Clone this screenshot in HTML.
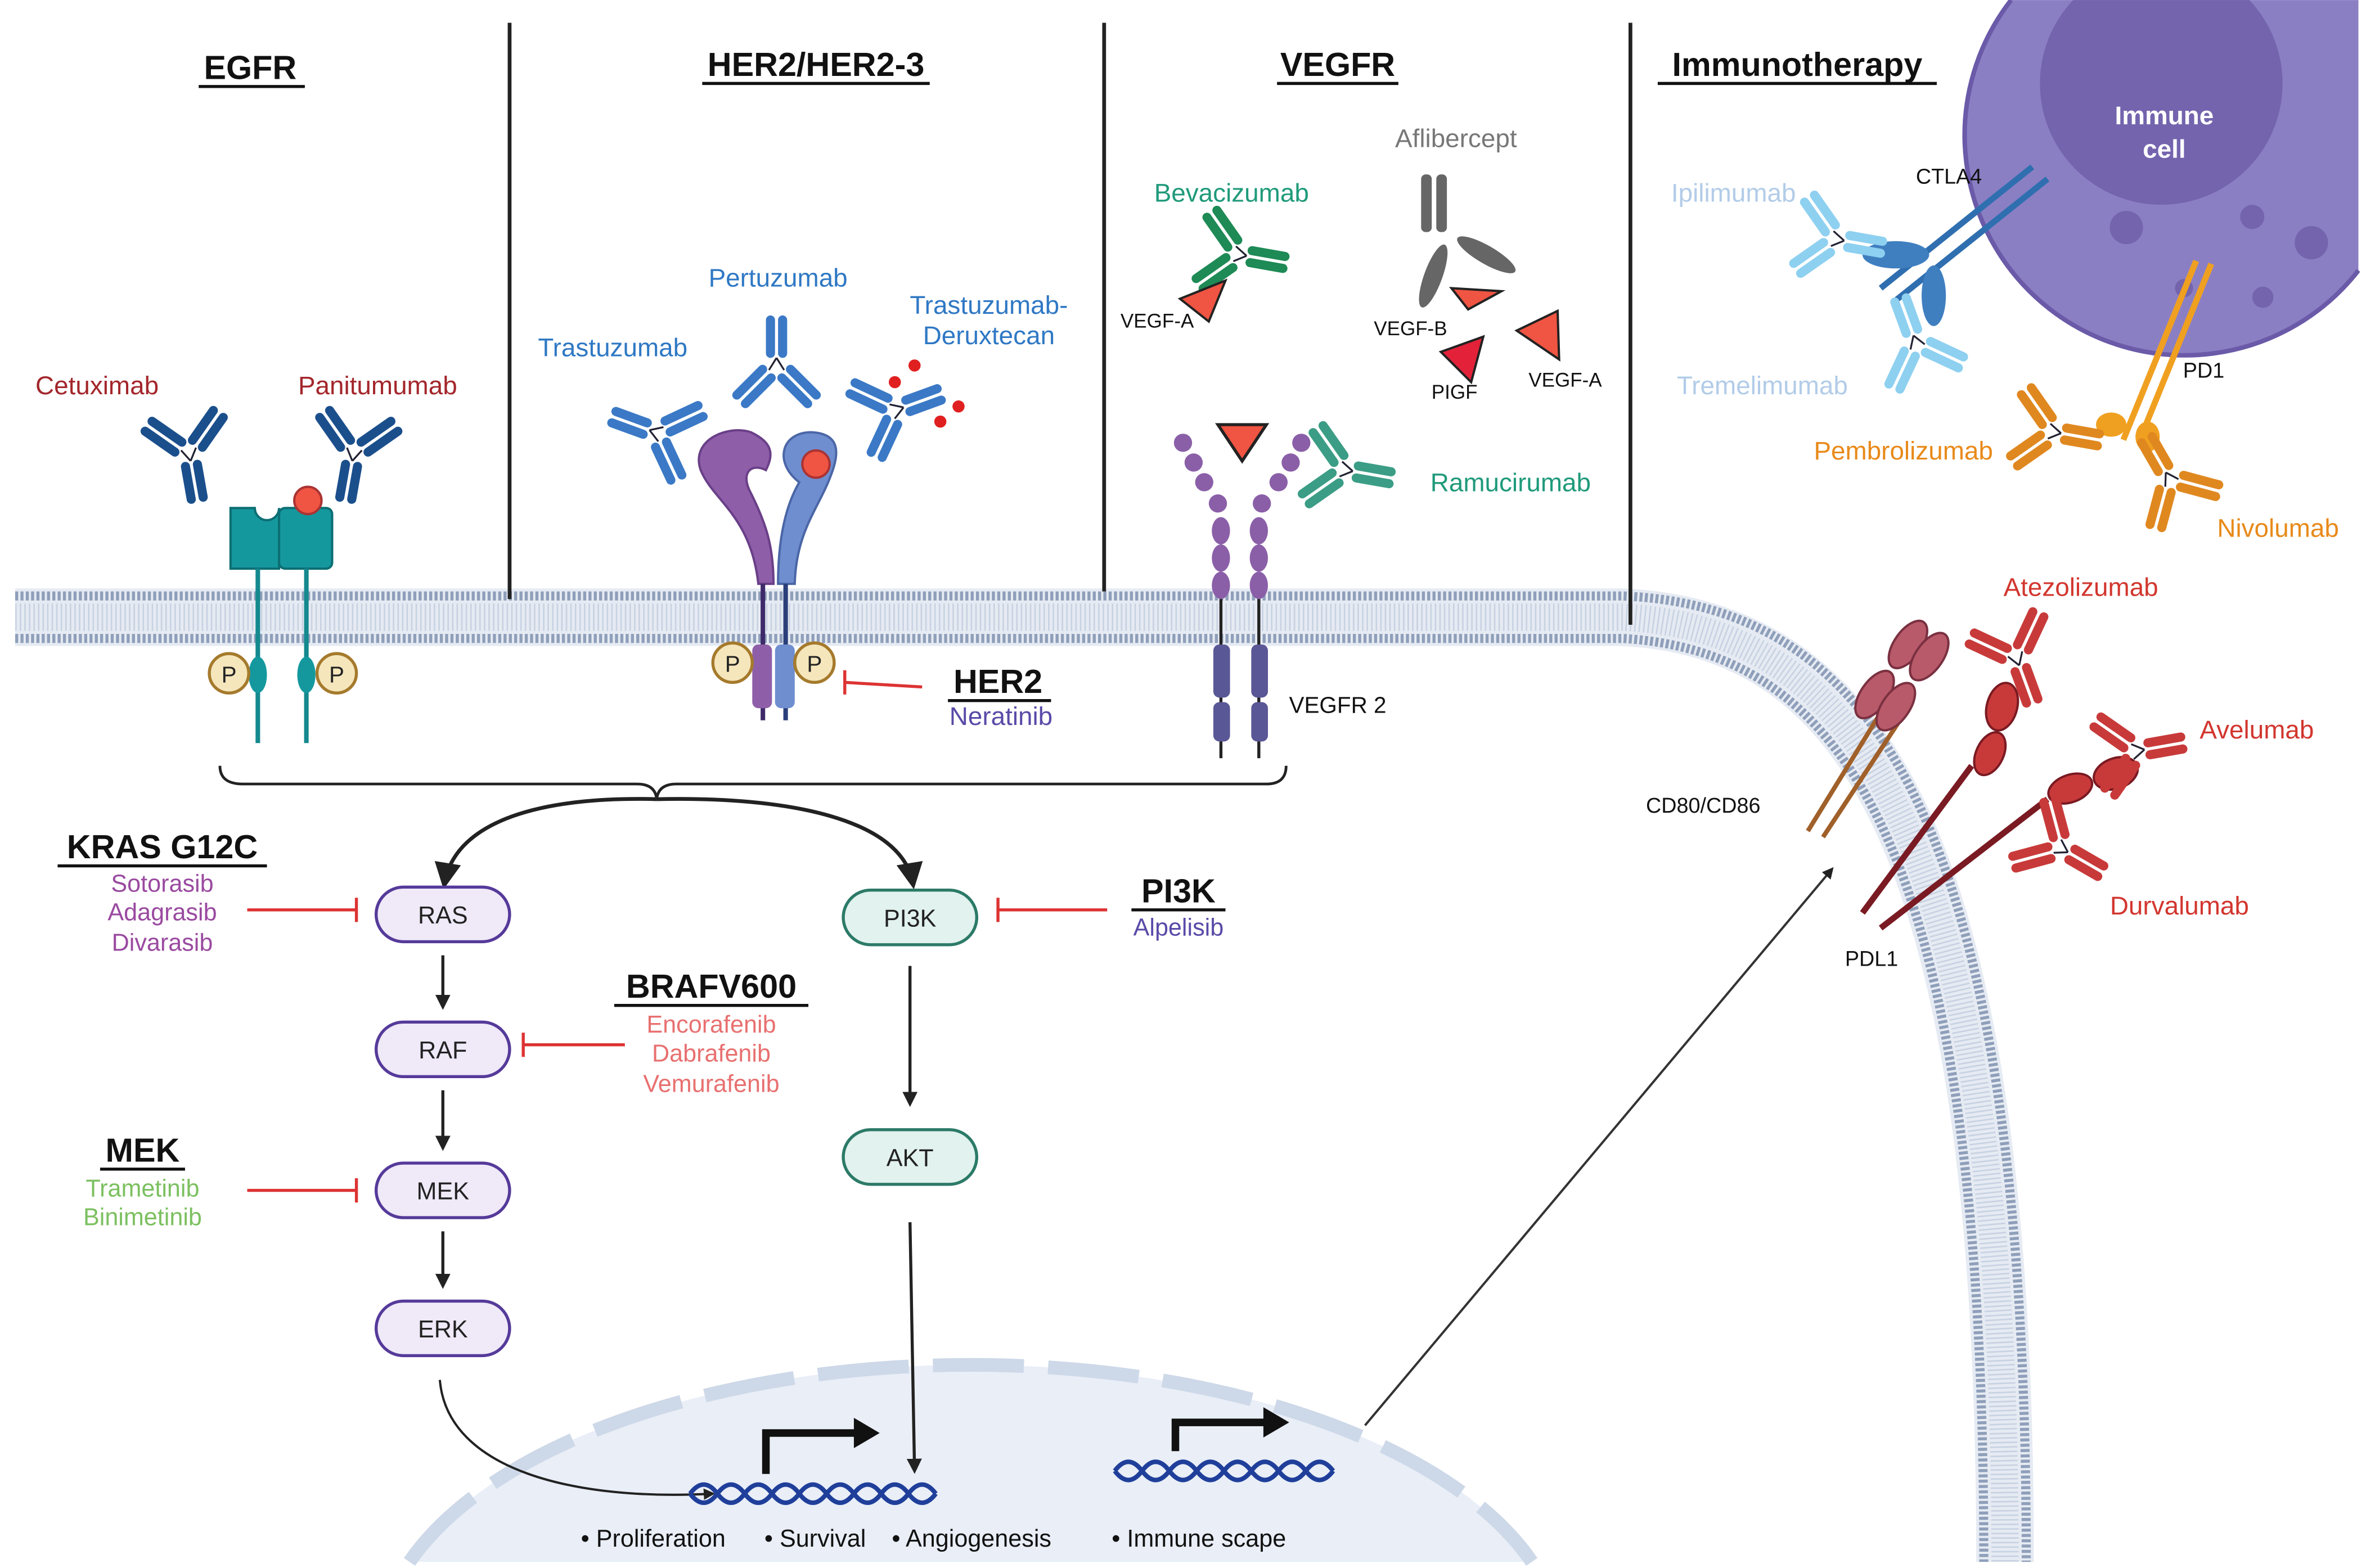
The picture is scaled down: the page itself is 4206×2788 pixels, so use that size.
<!DOCTYPE html>
<html><head><meta charset="utf-8"><style>
html,body{margin:0;padding:0;background:#fff;width:4206px;height:2788px;overflow:hidden;}
svg{display:block;overflow:hidden;}
text{font-family:"Liberation Sans",sans-serif;}
</style></head><body>
<svg width="4206" height="2788" viewBox="0 0 1560 1034" xmlns="http://www.w3.org/2000/svg">
<defs>
<g id="ab">
<rect x="-7" y="4" width="6" height="28" rx="3"/><rect x="1" y="4" width="6" height="28" rx="3"/>
<g transform="rotate(-45)"><rect x="-7" y="-36" width="6" height="30" rx="3"/><rect x="1" y="-36" width="6" height="30" rx="3"/></g>
<g transform="rotate(45)"><rect x="-7" y="-36" width="6" height="30" rx="3"/><rect x="1" y="-36" width="6" height="30" rx="3"/></g>
<path d="M0,4 L-5,-4 M0,4 L5,-4" stroke="#223" stroke-width="1.2" fill="none"/>
</g>
<marker id="ar" viewBox="0 0 10 10" refX="8" refY="5" markerWidth="7" markerHeight="7" orient="auto"><path d="M0,0 L10,5 L0,10z" fill="#222"/></marker>
<marker id="ar2" viewBox="0 0 10 10" refX="8" refY="5" markerWidth="5" markerHeight="5" orient="auto"><path d="M0,0 L10,5 L0,10z" fill="#222"/></marker>
</defs>
<rect width="1560" height="1034" fill="#fff"/>

<!-- immune cell -->
<path d="M1326,0 A145,145 0 1 0 1555,178.3 L1555,0 Z" fill="#8b7fc4"/>
<path d="M1326,0 A145,145 0 1 0 1555,178.3" fill="none" stroke="#6a5aa8" stroke-width="3"/>
<path d="M1366.9,0 A80,80 0 1 0 1483.1,0 Z" fill="#7464ae"/>
<circle cx="1402" cy="150" r="11" fill="#7464ae"/><circle cx="1485" cy="143" r="8" fill="#7464ae"/>
<circle cx="1524" cy="160" r="11" fill="#7464ae"/><circle cx="1492" cy="196" r="7" fill="#7464ae"/><circle cx="1440" cy="190" r="6" fill="#7464ae"/>
<text x="1427" y="82" font-size="17" font-weight="bold" fill="#fff" text-anchor="middle">Immune</text>
<text x="1427" y="104" font-size="17" font-weight="bold" fill="#fff" text-anchor="middle">cell</text>

<!-- nucleus -->
<path d="M270,1030 A390,190 0 0 1 1010,1030 Z" fill="#e9eef7"/>
<path d="M270,1030 A390,190 0 0 1 1010,1030" fill="none" stroke="#cdd8e8" stroke-width="9" stroke-dasharray="60 16"/>

<!-- membrane -->
<path d="M10,407 L1070,407 C1230,415 1322,560 1322,1030" fill="none" stroke="#e6ebf3" stroke-width="38"/>
<path d="M10,393 L1070,393 C1240,400 1336,550 1336,1030" fill="none" stroke="#8f9fba" stroke-width="6" stroke-dasharray="2 1.5"/>
<path d="M10,421 L1070,421 C1222,430 1308,570 1308,1030" fill="none" stroke="#8f9fba" stroke-width="6" stroke-dasharray="2 1.5"/>
<path d="M10,407 L1070,407 C1230,415 1322,560 1322,1030" fill="none" stroke="#c8d2e2" stroke-width="18" stroke-dasharray="1 2"/>

<!-- section dividers -->
<g stroke="#222" stroke-width="2.5">
<line x1="336" y1="15" x2="336" y2="395"/><line x1="728" y1="15" x2="728" y2="390"/><line x1="1075" y1="15" x2="1075" y2="412"/>
</g>

<!-- headers -->
<g font-size="22" font-weight="bold" fill="#111" text-anchor="middle">
<text x="165" y="52">EGFR</text><line x1="131" y1="57" x2="201" y2="57" stroke="#111" stroke-width="2"/>
<text x="538" y="50">HER2/HER2-3</text><line x1="463" y1="55" x2="613" y2="55" stroke="#111" stroke-width="2"/>
<text x="882" y="50">VEGFR</text><line x1="842" y1="55" x2="922" y2="55" stroke="#111" stroke-width="2"/>
<text x="1185" y="50">Immunotherapy</text><line x1="1093" y1="55" x2="1277" y2="55" stroke="#111" stroke-width="2"/>
</g>

<!-- EGFR -->
<text x="64" y="260" font-size="17" fill="#a3262b" text-anchor="middle">Cetuximab</text>
<text x="249" y="260" font-size="17" fill="#a3262b" text-anchor="middle">Panitumumab</text>
<use href="#ab" fill="#1b4f8c" transform="translate(125,300) rotate(-10)"/>
<use href="#ab" fill="#1b4f8c" transform="translate(233,300) rotate(10)"/>
<path d="M152,335 h16 a8,8 0 0 0 16,0 v0 h0 v40 h-32 z" fill="#14989e" stroke="#0c6e73" stroke-width="1.5"/>
<rect x="184" y="335" width="35" height="40" rx="4" fill="#14989e" stroke="#0c6e73" stroke-width="1.5"/>
<circle cx="203" cy="330" r="9" fill="#f05442" stroke="#a33" stroke-width="1.5"/>
<line x1="170" y1="375" x2="170" y2="490" stroke="#14898e" stroke-width="3"/>
<line x1="202" y1="375" x2="202" y2="490" stroke="#14898e" stroke-width="3"/>
<ellipse cx="170" cy="445" rx="6" ry="12" fill="#14989e"/><ellipse cx="202" cy="445" rx="6" ry="12" fill="#14989e"/>
<g font-size="15" text-anchor="middle" fill="#222">
<circle cx="151" cy="444" r="13" fill="#f5e6bc" stroke="#a57a2c" stroke-width="2"/><text x="151" y="450">P</text>
<circle cx="222" cy="444" r="13" fill="#f5e6bc" stroke="#a57a2c" stroke-width="2"/><text x="222" y="450">P</text>
</g>

<!-- HER2 -->
<text x="513" y="189" font-size="17" fill="#2f78c4" text-anchor="middle">Pertuzumab</text>
<text x="404" y="235" font-size="17" fill="#2f78c4" text-anchor="middle">Trastuzumab</text>
<text x="652" y="207" font-size="17" fill="#2f78c4" text-anchor="middle">Trastuzumab-</text>
<text x="652" y="227" font-size="17" fill="#2f78c4" text-anchor="middle">Deruxtecan</text>
<use href="#ab" fill="#3b79c6" transform="translate(512,240) rotate(180)"/>
<use href="#ab" fill="#3b79c6" transform="translate(432,285) rotate(110)"/>
<use href="#ab" fill="#3b79c6" transform="translate(592,270) rotate(-110)"/>
<g fill="#e02020"><circle cx="603" cy="241" r="4"/><circle cx="590" cy="252" r="4"/><circle cx="632" cy="268" r="4"/><circle cx="620" cy="278" r="4"/></g>
<path d="M500,385 C495,340 470,330 462,310 C455,290 480,280 495,285 C510,292 510,300 505,310 C495,305 488,312 495,325 C505,345 510,360 510,385 z" fill="#8e5fa8" stroke="#6a3f88" stroke-width="1.5"/>
<path d="M513,385 C513,350 520,330 527,318 C510,305 515,285 535,285 C555,286 553,300 548,313 C540,335 525,350 524,385 z" fill="#6f8ed0" stroke="#4a66a6" stroke-width="1.5"/>
<circle cx="538" cy="306" r="9" fill="#f05442" stroke="#a33" stroke-width="1.5"/>
<line x1="503" y1="385" x2="503" y2="475" stroke="#3e2a6a" stroke-width="3"/>
<line x1="518" y1="385" x2="518" y2="475" stroke="#2a3f7a" stroke-width="3"/>
<rect x="496" y="425" width="13" height="42" rx="4" fill="#8e5fa8"/><rect x="511" y="425" width="13" height="42" rx="4" fill="#6f8ed0"/>
<g font-size="15" text-anchor="middle" fill="#222">
<circle cx="483" cy="437" r="13" fill="#f5e6bc" stroke="#a57a2c" stroke-width="2"/><text x="483" y="443">P</text>
<circle cx="537" cy="437" r="13" fill="#f5e6bc" stroke="#a57a2c" stroke-width="2"/><text x="537" y="443">P</text>
</g>
<line x1="557" y1="450" x2="608" y2="453" stroke="#d33" stroke-width="2"/><line x1="557" y1="442" x2="557" y2="458" stroke="#d33" stroke-width="2"/>
<text x="658" y="457" font-size="22" font-weight="bold" fill="#111" text-anchor="middle">HER2</text>
<line x1="625" y1="462" x2="693" y2="462" stroke="#111" stroke-width="2"/>
<text x="660" y="478" font-size="17" fill="#5a4aa8" text-anchor="middle">Neratinib</text>

<!-- VEGFR -->
<text x="812" y="133" font-size="17" fill="#1f9a7a" text-anchor="middle">Bevacizumab</text>
<text x="960" y="97" font-size="17" fill="#777" text-anchor="middle">Aflibercept</text>
<use href="#ab" fill="#1e8a55" transform="translate(818,168) rotate(-80)"/>
<path d="M778,197 L808,185 L797,212 z" fill="#f05442" stroke="#222" stroke-width="1.5"/>
<text x="763" y="216" font-size="13" fill="#111" text-anchor="middle">VEGF-A</text>
<g fill="#666"><rect x="937" y="115" width="7" height="38" rx="3"/><rect x="947" y="115" width="7" height="38" rx="3"/>
<ellipse cx="945" cy="182" rx="6" ry="22" transform="rotate(20 945 182)"/><ellipse cx="980" cy="168" rx="6" ry="22" transform="rotate(-60 980 168)"/></g>
<path d="M957,190 L990,192 L968,204 z" fill="#f05442" stroke="#222" stroke-width="1.5"/>
<text x="930" y="221" font-size="13" fill="#111" text-anchor="middle">VEGF-B</text>
<path d="M1000,218 L1027,205 L1028,237 z" fill="#f05442" stroke="#222" stroke-width="1.5"/>
<text x="1032" y="255" font-size="13" fill="#111" text-anchor="middle">VEGF-A</text>
<path d="M950,232 L978,222 L970,252 z" fill="#e3223a" stroke="#222" stroke-width="1.5"/>
<text x="959" y="263" font-size="13" fill="#111" text-anchor="middle">PIGF</text>
<path d="M803,280 L835,280 L819,304 z" fill="#f05442" stroke="#222" stroke-width="2"/>
<g fill="#8a5fa8">
<circle cx="780" cy="292" r="6"/><circle cx="787" cy="305" r="6"/><circle cx="794" cy="318" r="6"/><circle cx="803" cy="332" r="6"/>
<circle cx="858" cy="292" r="6"/><circle cx="851" cy="305" r="6"/><circle cx="843" cy="318" r="6"/><circle cx="832" cy="332" r="6"/>
<ellipse cx="805" cy="350" rx="6" ry="9"/><ellipse cx="805" cy="368" rx="6" ry="9"/><ellipse cx="805" cy="386" rx="6" ry="9"/>
<ellipse cx="830" cy="350" rx="6" ry="9"/><ellipse cx="830" cy="368" rx="6" ry="9"/><ellipse cx="830" cy="386" rx="6" ry="9"/>
</g>
<line x1="805" y1="395" x2="805" y2="500" stroke="#222" stroke-width="2"/><line x1="830" y1="395" x2="830" y2="500" stroke="#222" stroke-width="2"/>
<g fill="#5a5796"><rect x="800" y="425" width="11" height="35" rx="4"/><rect x="825" y="425" width="11" height="35" rx="4"/>
<rect x="800" y="463" width="11" height="26" rx="4"/><rect x="825" y="463" width="11" height="26" rx="4"/></g>
<text x="882" y="470" font-size="15" fill="#111" text-anchor="middle">VEGFR 2</text>
<use href="#ab" fill="#3b9d85" transform="translate(888,310) rotate(-80)"/>
<text x="996" y="324" font-size="17" fill="#1f9a7a" text-anchor="middle">Ramucirumab</text>

<!-- Immunotherapy -->
<text x="1143" y="133" font-size="17" fill="#b2cce8" text-anchor="middle">Ipilimumab</text>
<text x="1162" y="260" font-size="17" fill="#b2cce8" text-anchor="middle">Tremelimumab</text>
<text x="1285" y="121" font-size="14" fill="#111" text-anchor="middle">CTLA4</text>
<line x1="1240" y1="190" x2="1340" y2="110" stroke="#2f6fb0" stroke-width="4"/>
<line x1="1250" y1="198" x2="1350" y2="118" stroke="#2f6fb0" stroke-width="4"/>
<ellipse cx="1250" cy="168" rx="22" ry="9" fill="#3f7fc0"/><ellipse cx="1275" cy="195" rx="8" ry="20" fill="#3f7fc0"/>
<use href="#ab" fill="#8ed0f0" transform="translate(1212,158) rotate(-80)"/>
<use href="#ab" fill="#8ed0f0" transform="translate(1263,225) rotate(160)"/>
<line x1="1400" y1="290" x2="1448" y2="172" stroke="#f0a020" stroke-width="4"/>
<line x1="1410" y1="292" x2="1458" y2="174" stroke="#f0a020" stroke-width="4"/>
<ellipse cx="1392" cy="280" rx="10" ry="8" fill="#f0a020"/><ellipse cx="1416" cy="288" rx="8" ry="10" fill="#f0a020"/>
<text x="1453" y="249" font-size="14" fill="#111" text-anchor="middle">PD1</text>
<use href="#ab" fill="#e08820" transform="translate(1355,285) rotate(-80)"/>
<use href="#ab" fill="#e08820" transform="translate(1430,315) rotate(150)"/>
<text x="1255" y="303" font-size="17" fill="#e88a1a" text-anchor="middle">Pembrolizumab</text>
<text x="1502" y="354" font-size="17" fill="#e88a1a" text-anchor="middle">Nivolumab</text>

<!-- PD-L1 / CD80 region -->
<text x="1372" y="393" font-size="17" fill="#d2362e" text-anchor="middle">Atezolizumab</text>
<text x="1488" y="487" font-size="17" fill="#d2362e" text-anchor="middle">Avelumab</text>
<text x="1437" y="603" font-size="17" fill="#d2362e" text-anchor="middle">Durvalumab</text>
<line x1="1192" y1="548" x2="1240" y2="470" stroke="#a0602a" stroke-width="3"/>
<line x1="1202" y1="552" x2="1252" y2="476" stroke="#a0602a" stroke-width="3"/>
<g fill="#b85a6a" stroke="#7a3040" stroke-width="1.5">
<ellipse cx="1236" cy="458" rx="9" ry="18" transform="rotate(35 1236 458)"/><ellipse cx="1250" cy="466" rx="9" ry="18" transform="rotate(35 1250 466)"/>
<ellipse cx="1258" cy="425" rx="9" ry="18" transform="rotate(35 1258 425)"/><ellipse cx="1272" cy="433" rx="9" ry="18" transform="rotate(35 1272 433)"/>
</g>
<text x="1123" y="536" font-size="14" fill="#111" text-anchor="middle">CD80/CD86</text>
<line x1="1228" y1="602" x2="1300" y2="505" stroke="#7a1a22" stroke-width="4"/>
<line x1="1240" y1="612" x2="1350" y2="527" stroke="#7a1a22" stroke-width="4"/>
<g fill="#c83a3a" stroke="#7a1a22" stroke-width="1.5">
<ellipse cx="1312" cy="497" rx="9" ry="15" transform="rotate(25 1312 497)"/><ellipse cx="1320" cy="466" rx="10" ry="16" transform="rotate(15 1320 466)"/>
<ellipse cx="1365" cy="520" rx="15" ry="9" transform="rotate(-20 1365 520)"/><ellipse cx="1395" cy="510" rx="15" ry="10" transform="rotate(-20 1395 510)"/>
</g>
<text x="1234" y="637" font-size="14" fill="#111" text-anchor="middle">PDL1</text>
<use href="#ab" fill="#c83a3a" transform="translate(1330,435) rotate(-20)"/>
<use href="#ab" fill="#c83a3a" transform="translate(1410,495) rotate(-100)"/>
<use href="#ab" fill="#c83a3a" transform="translate(1360,560) rotate(-60)"/>

<!-- bracket -->
<path d="M145,505 Q145,517 160,517 L420,517 Q432,517 433,527 Q434,517 446,517 L835,517 Q848,517 848,505" fill="none" stroke="#222" stroke-width="1.8"/>
<path d="M433,527 C360,525 300,540 293,583" fill="none" stroke="#222" stroke-width="2.5" marker-end="url(#ar)"/>
<path d="M433,527 C520,525 595,540 602,583" fill="none" stroke="#222" stroke-width="2.5" marker-end="url(#ar)"/>

<!-- pathway nodes -->
<g font-size="16" text-anchor="middle" fill="#222">
<rect x="248" y="585" width="88" height="36" rx="18" fill="#efe9f8" stroke="#553a9a" stroke-width="2"/><text x="292" y="609">RAS</text>
<rect x="248" y="674" width="88" height="36" rx="18" fill="#efe9f8" stroke="#553a9a" stroke-width="2"/><text x="292" y="698">RAF</text>
<rect x="248" y="767" width="88" height="36" rx="18" fill="#efe9f8" stroke="#553a9a" stroke-width="2"/><text x="292" y="791">MEK</text>
<rect x="248" y="858" width="88" height="36" rx="18" fill="#efe9f8" stroke="#553a9a" stroke-width="2"/><text x="292" y="882">ERK</text>
<rect x="556" y="587" width="88" height="36" rx="18" fill="#e2f2ee" stroke="#2c7a68" stroke-width="2"/><text x="600" y="611">PI3K</text>
<rect x="556" y="745" width="88" height="36" rx="18" fill="#e2f2ee" stroke="#2c7a68" stroke-width="2"/><text x="600" y="769">AKT</text>
</g>
<g stroke="#222" stroke-width="2" marker-end="url(#ar2)">
<line x1="292" y1="630" x2="292" y2="664"/><line x1="292" y1="719" x2="292" y2="757"/><line x1="292" y1="812" x2="292" y2="848"/>
<line x1="600" y1="637" x2="600" y2="728"/><line x1="600" y1="806" x2="603" y2="970"/>
</g>
<path d="M290,910 C295,970 380,990 470,985" fill="none" stroke="#222" stroke-width="1.5" marker-end="url(#ar2)"/>
<line x1="900" y1="940" x2="1208" y2="573" stroke="#333" stroke-width="1.5" marker-end="url(#ar2)"/>

<!-- inhibitors -->
<g stroke="#d33" stroke-width="2">
<line x1="163" y1="600" x2="235" y2="600"/><line x1="235" y1="592" x2="235" y2="608"/>
<line x1="345" y1="689" x2="412" y2="689"/><line x1="345" y1="681" x2="345" y2="697"/>
<line x1="163" y1="785" x2="235" y2="785"/><line x1="235" y1="777" x2="235" y2="793"/>
<line x1="658" y1="600" x2="730" y2="600"/><line x1="658" y1="592" x2="658" y2="608"/>
</g>
<g text-anchor="middle">
<text x="107" y="566" font-size="22" font-weight="bold" fill="#111">KRAS G12C</text><line x1="38" y1="571" x2="176" y2="571" stroke="#111" stroke-width="2"/>
<text x="107" y="588" font-size="16" fill="#9a4aa0">Sotorasib</text>
<text x="107" y="607" font-size="16" fill="#9a4aa0">Adagrasib</text>
<text x="107" y="627" font-size="16" fill="#9a4aa0">Divarasib</text>
<text x="469" y="658" font-size="22" font-weight="bold" fill="#111">BRAFV600</text><line x1="405" y1="663" x2="533" y2="663" stroke="#111" stroke-width="2"/>
<text x="469" y="681" font-size="16" fill="#e87070">Encorafenib</text>
<text x="469" y="700" font-size="16" fill="#e87070">Dabrafenib</text>
<text x="469" y="720" font-size="16" fill="#e87070">Vemurafenib</text>
<text x="94" y="766" font-size="22" font-weight="bold" fill="#111">MEK</text><line x1="66" y1="771" x2="122" y2="771" stroke="#111" stroke-width="2"/>
<text x="94" y="789" font-size="16" fill="#7cc060">Trametinib</text>
<text x="94" y="808" font-size="16" fill="#7cc060">Binimetinib</text>
<text x="777" y="595" font-size="22" font-weight="bold" fill="#111">PI3K</text><line x1="746" y1="600" x2="808" y2="600" stroke="#111" stroke-width="2"/>
<text x="777" y="617" font-size="16" fill="#5a4aa8">Alpelisib</text>
</g>

<!-- DNA & transcription -->
<g fill="none" stroke="#1f3f9a" stroke-width="3">
<path d="M455,985 q9,-12 18,0 t18,0 t18,0 t18,0 t18,0 t18,0 t18,0 t18,0 t18,0"/>
<path d="M455,985 q9,12 18,0 t18,0 t18,0 t18,0 t18,0 t18,0 t18,0 t18,0 t18,0"/>
<path d="M735,970 q9,-12 18,0 t18,0 t18,0 t18,0 t18,0 t18,0 t18,0 t18,0"/>
<path d="M735,970 q9,12 18,0 t18,0 t18,0 t18,0 t18,0 t18,0 t18,0 t18,0"/>
</g>
<path d="M505,972 V945 H565" fill="none" stroke="#111" stroke-width="5"/><path d="M563,935 L580,945 L563,955z" fill="#111"/>
<path d="M775,957 V938 H835" fill="none" stroke="#111" stroke-width="5"/><path d="M833,928 L850,938 L833,948z" fill="#111"/>
<g font-size="16" fill="#111">
<text x="383" y="1020">• Proliferation</text><text x="504" y="1020">• Survival</text><text x="588" y="1020">• Angiogenesis</text>
<text x="733" y="1020">• Immune scape</text>
</g>
</svg>
</body></html>
